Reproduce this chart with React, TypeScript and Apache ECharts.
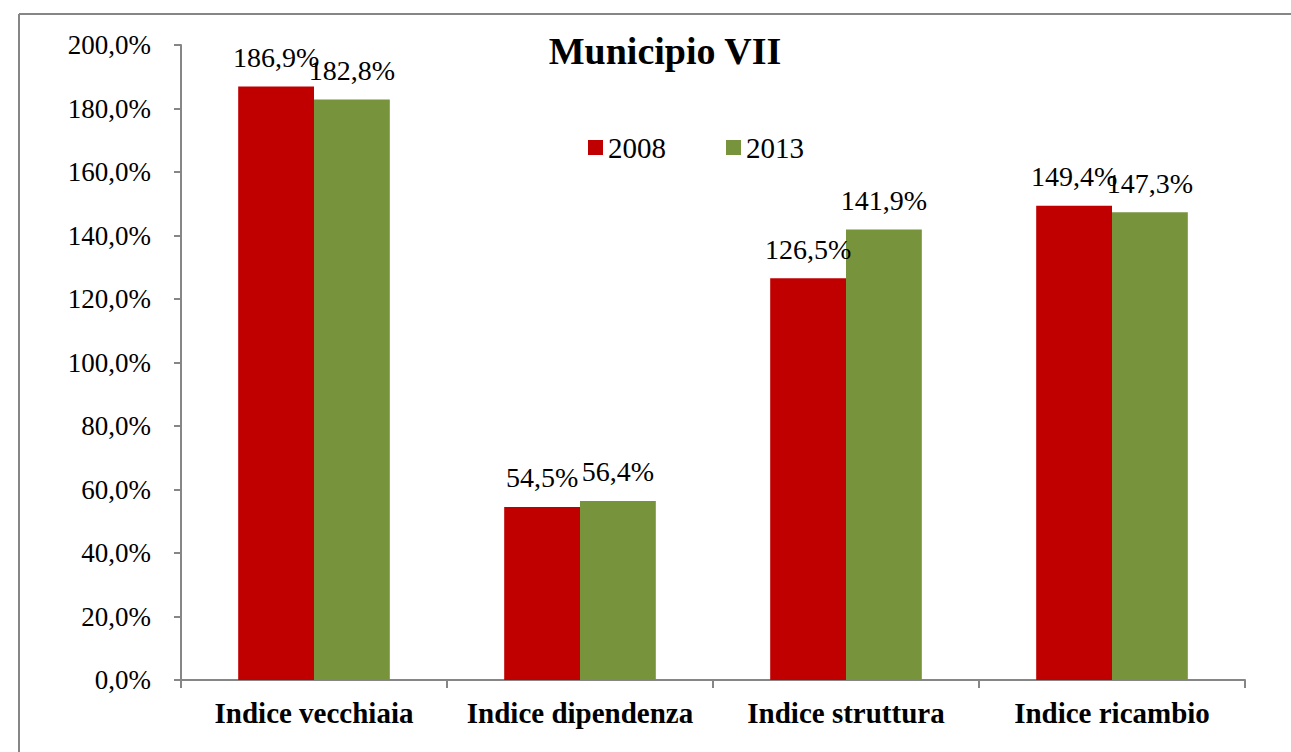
import React, { useEffect, useRef } from "react";
import * as echarts from "echarts";

const categories = ["Indice vecchiaia", "Indice dipendenza", "Indice struttura", "Indice ricambio"];
const values2008 = [186.9, 54.5, 126.5, 149.4];
const values2013 = [182.8, 56.4, 141.9, 147.3];
const seriesNames = ["2008", "2013"];
const title = "Municipio VII";

const FONT = "'Liberation Serif', 'Times New Roman', serif";
const fmt = (v: number) => v.toFixed(1).replace(".", ",") + "%";

export default function App() {
  const ref = useRef<HTMLDivElement>(null);
  useEffect(() => {
    const chart = echarts.init(ref.current!, undefined, { renderer: "svg" });
    const label = {
      show: true,
      position: "top",
      distance: 15,
      color: "#000",
      fontFamily: FONT,
      fontSize: 28,
      formatter: (p: any) => fmt(p.value),
    };
    chart.setOption({
      animation: false,
      backgroundColor: "#fff",
      textStyle: { fontFamily: FONT },
      title: {
        text: title,
        left: 660,
        textAlign: "center",
        top: 27,
        textStyle: { fontFamily: FONT, fontSize: 38, fontWeight: "bold", color: "#000" },
      },
      legend: {
        left: 583,
        top: 128,
        itemWidth: 15,
        itemHeight: 15,
        itemGap: 60,
        icon: "rect",
        textStyle: { fontFamily: FONT, fontSize: 29, color: "#000" },
        data: seriesNames,
      },
      graphic: [
        {
          type: "line",
          shape: { x1: 19, y1: 14, x2: 1291, y2: 14 },
          style: { stroke: "#868686", lineWidth: 2 },
        },
        {
          type: "line",
          shape: { x1: 19, y1: 14, x2: 19, y2: 752 },
          style: { stroke: "#868686", lineWidth: 2 },
        },
      ],
      grid: { left: 181, right: 46, top: 45, bottom: 72, containLabel: false },
      xAxis: {
        type: "category",
        data: categories,
        axisLine: { lineStyle: { color: "#868686", width: 2 } },
        axisTick: { show: true, interval: 0, length: 8, lineStyle: { color: "#868686", width: 2 } },
        axisLabel: {
          interval: 0,
          hideOverlap: false,
          margin: 18,
          fontFamily: FONT,
          fontSize: 29,
          fontWeight: "bold",
          color: "#000",
        },
      },
      yAxis: {
        type: "value",
        min: 0,
        max: 200,
        interval: 20,
        splitLine: { show: false },
        axisLine: { show: true, lineStyle: { color: "#868686", width: 2 } },
        axisTick: { show: true, length: 7, lineStyle: { color: "#868686", width: 2 } },
        axisLabel: {
          margin: 30,
          fontFamily: FONT,
          fontSize: 27,
          color: "#000",
          formatter: (v: number) => fmt(v),
        },
      },
      series: [
        {
          name: seriesNames[0],
          type: "bar",
          data: values2008,
          itemStyle: { color: "#C00000" },
          barGap: "0%",
          barCategoryGap: "43%",
          label,
        },
        {
          name: seriesNames[1],
          type: "bar",
          data: values2013,
          itemStyle: { color: "#77933C" },
          barGap: "0%",
          barCategoryGap: "43%",
          label,
        },
      ],
    });
    return () => chart.dispose();
  }, []);
  return (
    <div
      ref={ref}
      style={{ position: "fixed", left: 0, top: 0, width: 1291, height: 752, background: "#fff" }}
    />
  );
}
